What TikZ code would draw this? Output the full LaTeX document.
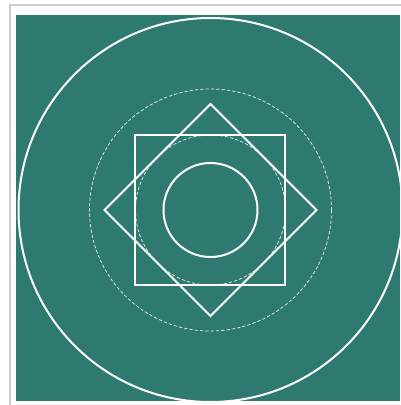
\documentclass[tikz,border=0pt]{standalone}
\usepackage{tikz}

\definecolor{tealbg}{RGB}{46,122,112}
\definecolor{framegray}{RGB}{205,205,205}

\tikzset{
    ring/.style={draw=white, line width=1.5pt},
    thinring/.style={draw=white!85!tealbg, line width=0.55pt, dash pattern=on 2.5pt off 1.5pt},
}

\begin{document}
\begin{tikzpicture}[x=0.75pt, y=-0.75pt]

    \useasboundingbox (0,0) rectangle (401,405);

    %%% Frame and background
    \draw[framegray, line width=1pt] (10,5) rectangle (412,412);
    \fill[tealbg] (16,15) rectangle (400,401);

    % Centre of the figure
    \coordinate (c) at (210.5,210);

    %%% Circles
    \draw[ring] (c) circle[radius=192];
    \draw[thinring] (c) circle[radius=121];
    \draw[thinring] (c) circle[radius=75];
    \draw[ring] (c) circle[radius=47];

    %%% Square and diamond
    \draw[ring] ([shift={(-75,-75)}]c) rectangle ([shift={(75,75)}]c);
    \draw[ring, rotate around={45:(c)}]
        ([shift={(-75,-75)}]c) rectangle ([shift={(75,75)}]c);

\end{tikzpicture}
\end{document}
